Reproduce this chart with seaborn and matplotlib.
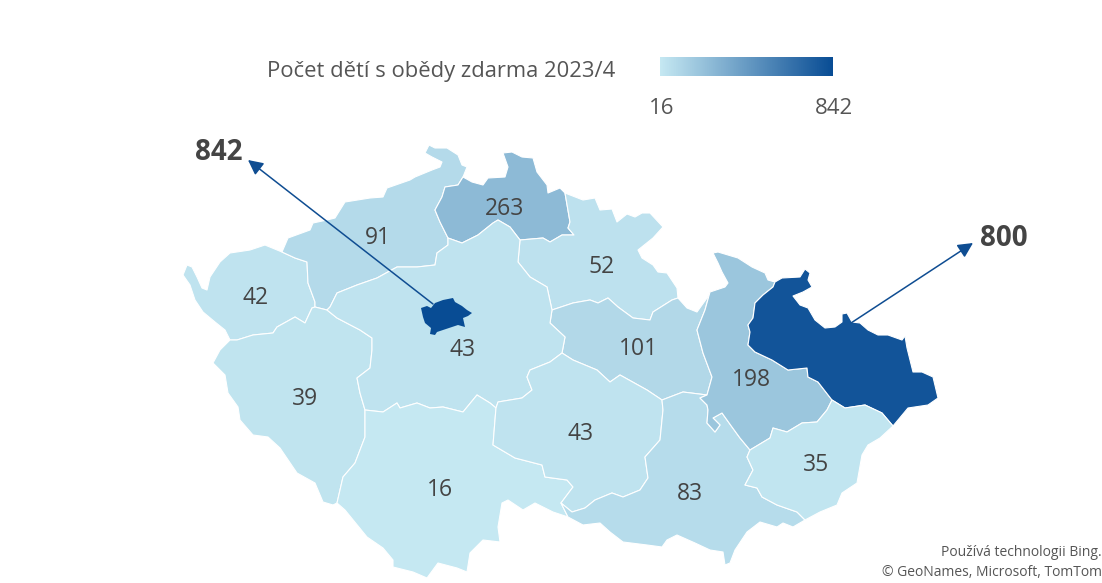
import numpy as np
import matplotlib.pyplot as plt
import seaborn as sns

# -----------------------------
# Values
# -----------------------------
regions = ["Karlovarský", "Ústecký", "Plzeňský", "Liberecký", "Královéhradecký", "Pardubický", "Středočeský",
           "Jihočeský", "Vysočina", "Jihomoravský", "Olomoucký", "Moravskoslezský", "Zlínský", "Praha"]
values = [42, 91, 39, 263, 52, 101, 43, 16, 43, 83, 198, 800, 35, 842]
legend_title = "Počet dětí s obědy zdarma 2023/4"
legend_min = 16
legend_max = 842
footer_lines = ["Používá technologii Bing.", "© GeoNames, Microsoft, TomTom"]

# -----------------------------
# Region borders, traced in picture pixels
# -----------------------------
kv_outer = [(282,252),(265,245),(250,250),(230,253),(220,262),(210,277),(207,290),(202,288),(197,277),(192,267),
            (187,265),(183,275),(190,285),(195,300),(203,312),(215,322),(225,330),(230,340)]
kv_plz = [(230,340),(237,340),(253,335),(273,333),(277,327),(295,317),(305,323),(312,308),(315,307)]
kv_us = [(282,252),(295,258),(307,262),(308,283),(315,302),(315,307)]
us_plz = [(315,307),(327,310)]
us_outer = [(282,252),(288,238),(310,230),(313,223),(327,220),(335,218),(345,202),(370,198),(383,197),(387,188),
            (410,180),(415,177),(432,170),(440,167),(442,162),(432,157),(425,153),(429,145),(435,148),(447,148),
            (458,155),(462,165),(467,167),(463,177)]
us_lib = [(463,177),(458,185),(445,187),(442,197),(435,210),(440,222),(448,238)]
us_str = [(448,238),(448,245),(437,253),(435,265),(417,267),(397,267),(377,278),(357,285),(337,293),(330,307),(327,310)]
plz_str = [(327,310),(337,318),(360,330),(372,338),(372,350),(370,368),(357,378),(360,393),(365,410)]
plz_jih = [(365,410),(365,437),(355,463),(343,477),(337,503)]
plz_outer = [(230,340),(220,350),(213,363),(225,375),(228,393),(238,407),(240,420),(253,435),(268,437),(280,448),
             (297,473),(315,483),(323,502),(333,505),(337,503)]
jih_outer = [(337,503),(345,510),(367,537),(383,548),(393,560),(393,567),(413,572),(427,578),(438,563),(457,568),
             (467,572),(470,553),(483,540),(500,542),(498,527),(502,503),(508,500),(523,510),(535,503),(553,512),(568,517)]
jmk_jih = [(568,517),(561,503)]
jih_vys = [(561,503),(573,487),(567,480),(545,477),(542,465),(515,458),(493,445),(495,420),(496,408)]
str_jih = [(365,410),(383,412),(397,403),(400,408),(417,403),(430,408),(443,407),(463,412),(477,395),(490,403),(496,408)]
str_vys = [(496,408),(498,402),(522,398),(532,390),(527,377),(530,370),(550,362),(562,353)]
str_par = [(562,353),(565,337),(550,323),(552,310)]
str_hr = [(552,310),(547,287),(530,277),(518,262),(520,240)]
str_lib = [(448,238),(462,243),(478,235),(493,223),(498,220),(510,227),(520,240)]
lib_outer = [(463,177),(472,182),(483,185),(488,178),(505,177),(508,167),(503,153),(512,152),(522,157),(533,158),
             (537,172),(547,185),(548,193),(560,188),(565,193)]
lib_hr = [(565,193),(570,222),(568,228),(574,235),(562,235),(550,242),(543,238),(520,240)]
hr_outer = [(565,193),(583,200),(595,198),(600,210),(612,209),(617,222),(627,214),(635,217),(642,213),(650,213),
            (663,227),(653,238),(638,250),(642,258),(653,265),(658,272),(667,273),(677,288),(678,298)]
hr_par = [(552,310),(573,303),(590,300),(598,303),(608,298),(618,307),(633,318),(650,320),(653,312),(672,300),(678,298)]
par_outer = [(678,298),(687,308),(697,312),(707,298),(710,292)]
par_olo = [(710,292),(705,310),(697,330),(703,353),(712,377),(707,395)]
par_vys = [(562,353),(573,360),(597,370),(610,382),(620,375),(647,390),(662,400)]
par_jmk = [(662,400),(683,392),(707,395)]
vys_jmk = [(662,400),(663,410),(660,440),(645,457),(648,478),(640,490),(623,497),(612,493),(595,500),(585,508),
           (572,512),(561,503)]
olo_jmk = [(707,395),(700,398),(707,405),(708,410),(707,423),(715,432),(720,425),(713,418),(722,413),(732,427),
           (740,438),(750,450)]
olo_zl = [(750,450),(770,438),(773,428),(787,432),(802,423),(817,422),(827,410),(832,400)]
olo_msk = [(832,400),(818,382),(808,377),(807,368),(788,370),(772,360),(755,352),(748,345),(750,332),(748,325),
           (753,318),(755,303),(763,295),(773,287),(775,282)]
olo_outer = [(710,292),(725,287),(728,283),(722,272),(718,263),(713,253),(718,252),(738,258),(752,267),(765,273),
             (768,280),(775,282)]
msk_outer = [(775,282),(782,278),(800,277),(805,269),(810,273),(808,280),(812,287),(803,292),(793,296),(800,305),
             (808,308),(815,320),(825,328),(835,327),(842,322),(842,314),(847,313),(852,322),(860,323),(868,330),
             (878,335),(888,335),(902,340),(905,336),(907,348),(913,372),(922,372),(933,377),(938,398),(928,405),
             (908,408),(893,426)]
msk_zl = [(893,426),(882,413),(865,405),(845,408),(832,400)]
zl_outer = [(893,426),(880,438),(868,445),(862,455),(857,483),(842,493),(837,505),(820,512),(805,520)]
zl_jmk = [(750,450),(747,457),(753,470),(745,485),(757,488),(762,497),(777,505),(797,512),(805,520)]
jmk_outer = [(805,520),(793,527),(783,523),(777,527),(760,522),(747,532),(735,550),(730,563),(725,565),(723,552),
             (710,550),(695,543),(677,535),(667,540),(662,547),(647,545),(623,542),(610,532),(600,523),(583,525),(568,517)]
praha = [(421,308),(427,306),(431,308),(435,303),(443,300),(453,298),(455,302),(462,306),(467,310),(472,313),
         (468,316),(463,318),(465,327),(458,325),(452,327),(443,330),(437,332),(435,335),(430,334),(431,328),
         (425,323),(423,317)]


def rev(arc):
    return arc[::-1]


shapes = [
    kv_outer + kv_plz + rev(kv_us),
    us_outer + us_lib + us_str + rev(us_plz) + rev(kv_us),
    kv_plz + us_plz + plz_str + plz_jih + rev(plz_outer),
    lib_outer + lib_hr + rev(str_lib) + rev(us_lib),
    hr_outer + rev(hr_par) + str_hr + rev(lib_hr),
    hr_par + par_outer + par_olo + rev(par_jmk) + rev(par_vys) + str_par,
    rev(us_str) + str_lib + rev(str_hr) + rev(str_par) + rev(str_vys) + rev(str_jih) + rev(plz_str),
    str_jih + rev(jih_vys) + rev(jmk_jih) + rev(jih_outer) + rev(plz_jih),
    str_vys + par_vys + vys_jmk + jih_vys,
    par_jmk + olo_jmk + zl_jmk + jmk_outer + jmk_jih + rev(vys_jmk),
    olo_outer + rev(olo_msk) + rev(olo_zl) + rev(olo_jmk) + rev(par_olo),
    msk_outer + msk_zl + olo_msk,
    olo_zl + rev(msk_zl) + zl_outer + rev(zl_jmk),
    praha,
]

# label anchors, None where the value sits outside the map
label_x = [256, 378, 305, 505, 602, 638, 463, 440, 581, 690, 751, None, 816, None]
label_y = [298, 238, 399, 209, 267, 349, 350, 490, 434, 494, 380, None, 465, None]

# -----------------------------
# Style
# -----------------------------
sns.set_style("white")
plt.rcParams['font.family'] = ['Open Sans', 'DejaVu Sans']
text_color = "#444444"
arrow_color = "#0f4d92"
cmap = sns.blend_palette(["#c5e8f2", "#084c94"], as_cmap=True)

fig = plt.figure(figsize=(11.02, 5.83), dpi=100)
ax = fig.add_axes([0, 0, 1, 1])
ax.set_xlim(0, 1102)
ax.set_ylim(583, 0)
ax.axis("off")

# -----------------------------
# Map
# -----------------------------
for name, shape, value in zip(regions, shapes, values):
    xs, ys = zip(*shape)
    color = cmap((value - legend_min) / (legend_max - legend_min))
    ax.fill(xs, ys, facecolor=color, edgecolor="none" if name == "Praha" else "#ffffff",
            linewidth=0.8, joinstyle="round", zorder=3 if name == "Praha" else 2, label=name)

for value, x, y in zip(values, label_x, label_y):
    if x is not None:
        ax.text(x, y, str(value), fontsize=16.5, color=text_color, ha="center", va="center", zorder=5)

# -----------------------------
# Callouts
# -----------------------------
ax.annotate("", xy=(248, 160), xytext=(433, 304), zorder=2.5,
            arrowprops=dict(arrowstyle="-|>,head_length=0.9,head_width=0.45", color=arrow_color, lw=1.1,
                            shrinkA=0, shrinkB=0))
ax.annotate("", xy=(973, 243), xytext=(851, 323), zorder=4,
            arrowprops=dict(arrowstyle="-|>,head_length=0.9,head_width=0.45", color=arrow_color, lw=1.1,
                            shrinkA=0, shrinkB=0))
ax.text(219, 152, str(values[13]), fontsize=20, fontweight="bold", color=text_color, ha="center", va="center")
ax.text(1004, 239, str(values[11]), fontsize=20, fontweight="bold", color=text_color, ha="center", va="center")

# -----------------------------
# Legend
# -----------------------------
ax.text(615, 71, legend_title, fontsize=15.8, color="#555555", ha="right", va="center")
ax.text(662, 108, str(legend_min), fontsize=16, color="#555555", ha="center", va="center")
ax.text(853, 108, str(legend_max), fontsize=16, color="#555555", ha="right", va="center")

cax = fig.add_axes([660 / 1102, 1 - 76 / 583, 173 / 1102, 19 / 583])
sns.heatmap(np.linspace(legend_min, legend_max, 256).reshape(1, -1), ax=cax, cmap=cmap, cbar=False,
            xticklabels=False, yticklabels=False)

# -----------------------------
# Footer
# -----------------------------
ax.text(1102, 553, footer_lines[0], fontsize=10, color="#555555", ha="right", va="center")
ax.text(1102, 572, footer_lines[1], fontsize=10, color="#555555", ha="right", va="center")

fig.savefig("out.png", dpi=100)
